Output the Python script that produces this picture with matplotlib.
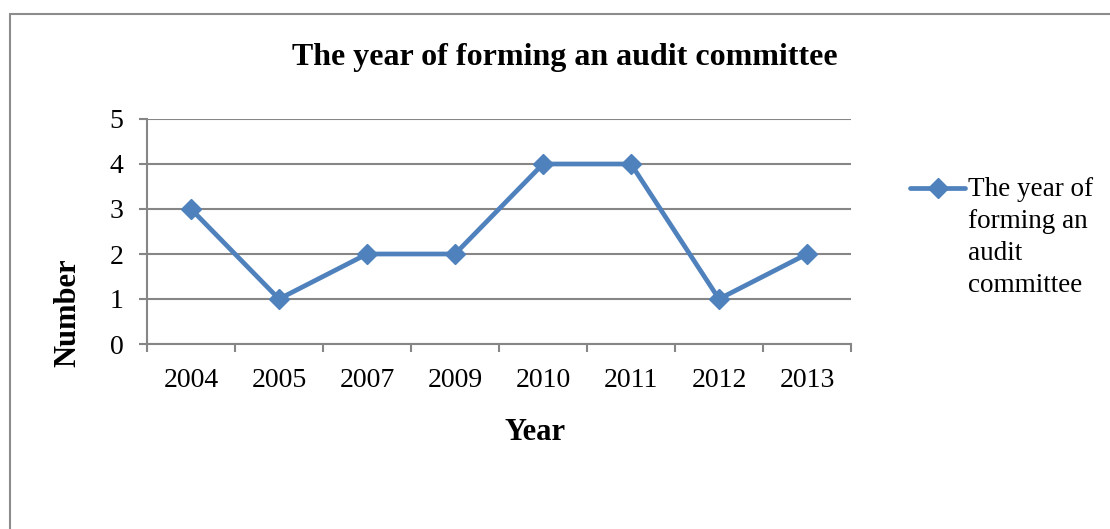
import matplotlib
matplotlib.use("Agg")
import matplotlib.pyplot as plt
from matplotlib.patches import Rectangle
from matplotlib.lines import Line2D
import numpy as np

years = ["2004", "2005", "2007", "2009", "2010", "2011", "2012", "2013"]
counts = [3, 1, 2, 2, 4, 4, 1, 2]
y_ticks = [0, 1, 2, 3, 4, 5]
series_label = "The year of\nforming an\naudit\ncommittee"

W, H = 1110, 529
fig = plt.figure(figsize=(W / 100, H / 100), dpi=100)
plt.rcParams['font.family'] = ['Liberation Serif', 'DejaVu Serif']

BLUE = '#4F81BD'
GRAY = '#868686'

# outer border (cropped at right/bottom)
fig.patches.append(Rectangle((10 / W, -0.1), 1.2, 1 - 14 / H + 0.1, transform=fig.transFigure,
                             fill=False, edgecolor='#8c8c8c', linewidth=1.5))

ax = fig.add_axes([147 / W, 1 - 344 / H, (851 - 147) / W, (344 - 119) / H])
x = np.arange(len(years))
ax.plot(x, counts, color=BLUE, linewidth=3.4, marker='D', markersize=10,
        zorder=3, clip_on=False)

ax.set_xlim(-0.5, len(years) - 0.5)
ax.set_ylim(0, 5)
ax.set_yticks(y_ticks)
ax.set_xticks(x)
ax.set_xticklabels(years)
ax.set_xticks(np.arange(-0.5, len(years)), minor=True)
ax.tick_params(axis='x', which='major', length=0, pad=17, labelsize=20)
ax.tick_params(axis='x', which='minor', length=6, width=1.5, color=GRAY, direction='out')
ax.tick_params(axis='y', length=6, width=1.5, color=GRAY, pad=11, labelsize=20)
ax.grid(axis='y', color=GRAY, linewidth=1.5)
ax.set_axisbelow(True)
for s in ['top', 'right']:
    ax.spines[s].set_visible(False)
for s in ['left', 'bottom']:
    ax.spines[s].set_color(GRAY)
    ax.spines[s].set_linewidth(1.5)

fig.text(565 / W, 1 - 57 / H, 'The year of forming an audit committee', ha='center', va='center',
         fontsize=23, fontweight='bold')
fig.text(535 / W, 1 - 433 / H, 'Year', ha='center', va='center', fontsize=22, fontweight='bold')
fig.text(68 / W, 1 - 313 / H, 'Number', ha='center', va='center', rotation=90, fontsize=22,
         fontweight='bold')

# legend (handle aligned with first text line, as in the reference)
fig.add_artist(Line2D([910 / W, 965 / W], [1 - 188 / H, 1 - 188 / H], transform=fig.transFigure,
                      color=BLUE, linewidth=3.4, solid_capstyle='round'))
fig.add_artist(Line2D([937.5 / W], [1 - 188 / H], transform=fig.transFigure,
                      color=BLUE, marker='D', markersize=10, linestyle='none'))
fig.text(968 / W, 1 - 177 / H, series_label, ha='left', va='top', fontsize=19.5,
         linespacing=1.37)

fig.savefig('out.png', dpi=100)
